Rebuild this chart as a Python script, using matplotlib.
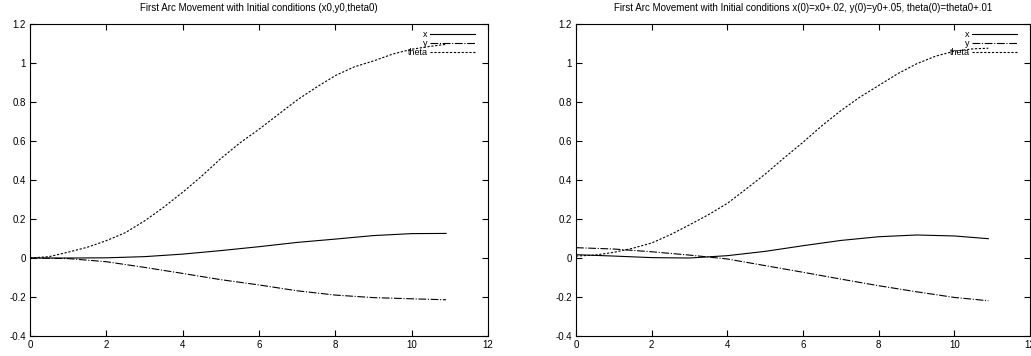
import matplotlib.pyplot as plt

plt.rcParams['font.family'] = ['Liberation Sans', 'DejaVu Sans']

t = [0, 1, 2, 3, 4, 5, 6, 7, 8, 9, 10, 10.9]
t_half = [0, 0.5, 1, 1.5, 2, 2.5, 3, 3.5, 4, 4.5, 5, 5.5, 6, 6.5, 7, 7.5,
          8, 8.5, 9, 9.5, 10, 10.5, 10.9]

# left: initial conditions (x0, y0, theta0)
x1 = [0, 0, 0.001, 0.007, 0.02, 0.038, 0.058, 0.08, 0.097, 0.115, 0.125, 0.126]
y1 = [0, -0.003, -0.019, -0.048, -0.079, -0.111, -0.138, -0.168, -0.19, -0.203, -0.209, -0.214]
th1 = [0, 0.007, 0.03, 0.055, 0.089, 0.13, 0.19, 0.26, 0.337, 0.42, 0.51, 0.59,
       0.66, 0.735, 0.81, 0.875, 0.935, 0.98, 1.01, 1.045, 1.07, 1.085, 1.095]

# right: perturbed initial conditions
x2 = [0.017, 0.01, 0.002, 0, 0.012, 0.034, 0.063, 0.09, 0.109, 0.118, 0.113, 0.099]
y2 = [0.053, 0.046, 0.032, 0.015, -0.005, -0.039, -0.073, -0.108, -0.142, -0.173, -0.202, -0.219]
th2 = [0.01, 0.015, 0.029, 0.05, 0.077, 0.12, 0.17, 0.222, 0.28, 0.354, 0.43, 0.513,
       0.593, 0.678, 0.755, 0.824, 0.884, 0.944, 0.995, 1.034, 1.06, 1.072, 1.075]

titles = ["First Arc Movement with Initial conditions (x0,y0,theta0)",
          "First Arc Movement with Initial conditions x(0)=x0+.02, y(0)=y0+.05, theta(0)=theta0+.01"]
yticks = [-0.4, -0.2, 0, 0.2, 0.4, 0.6, 0.8, 1, 1.2]
ylabels = ["-0.4", "-0.2", "0", "0.2", "0.4", "0.6", "0.8", "1", "1.2"]
xticks = [0, 2, 4, 6, 8, 10, 12]

fig = plt.figure(figsize=(10.31, 3.56), dpi=100)
ax1 = fig.add_axes([0.0291, 0.056, 0.4443, 0.877])
ax2 = fig.add_axes([0.5587, 0.056, 0.4403, 0.877])

for ax, xs, ys, ths, title in [(ax1, x1, y1, th1, titles[0]), (ax2, x2, y2, th2, titles[1])]:
    ax.plot(t, xs, color="black", lw=0.8, label="x")
    ax.plot(t, ys, color="black", lw=0.8, dashes=(7, 1.5, 1, 1.5), label="y")
    ax.plot(t_half, ths, color="black", lw=0.8, dashes=(2, 1.5), label="theta")
    ax.set_xlim(0, 12)
    ax.set_ylim(-0.4, 1.2)
    ax.set_xticks(xticks)
    ax.set_xticklabels([str(v) for v in xticks])
    ax.set_yticks(yticks)
    ax.set_yticklabels(ylabels)
    ax.tick_params(direction="in", top=True, right=True, length=4, width=0.8,
                   labelsize=7, pad=3)
    for s in ax.spines.values():
        s.set_linewidth(0.8)
    ax.set_title(title, fontsize=7, pad=9)
    ax.legend(loc="upper right", bbox_to_anchor=(0.985, 1.0), frameon=False,
              markerfirst=False, fontsize=6.5, labelspacing=0.0,
              handlelength=5.0, handletextpad=0.3, borderaxespad=0.25)

fig.savefig("out.png", dpi=100)
